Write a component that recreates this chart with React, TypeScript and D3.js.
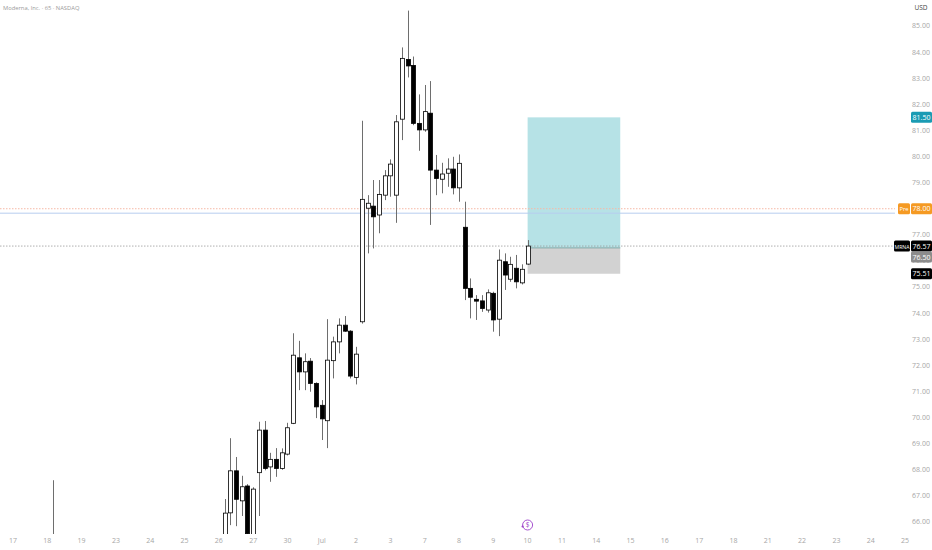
import * as d3 from 'd3';

const title = 'Moderna, Inc. · 65 · NASDAQ';
const currency = 'USD';

// bar index (6 bars of 65 min per session), OHLC
const barIndex = [7, 37, 38, 39, 40, 41, 42, 43, 44, 45, 46, 47, 48, 49, 50, 51, 52, 53, 54, 55, 56, 57, 58, 59, 60,
  61, 62, 63, 64, 65, 66, 67, 68, 69, 70, 71, 72, 73, 74, 75, 76, 77, 78, 79, 80, 81, 82, 83, 84, 85, 86, 87, 88, 89, 90];
const opens = [65.2, 65.3, 66.35, 67.96, 66.81, 67.38, 65.5, 67.89, 69.52, 68.11, 68.4, 68.05, 68.6, 69.78, 72.29, 71.75,
  72.16, 71.31, 70.47, 69.88, 72.18, 72.9, 73.54, 73.31, 71.54, 73.67, 78.02, 78.1, 77.76, 78.52, 79.26, 78.52, 81.43,
  83.72, 83.49, 81.27, 81.02, 81.66, 79.48, 79.13, 79.36, 79.52, 78.8, 77.29, 74.95, 74.53, 74.47, 74.12, 74.76, 73.77,
  75.97, 75.3, 75.72, 75.16, 75.88];
const highs = [67.6, 66.88, 69.21, 68.49, 67.77, 67.45, 67.33, 69.84, 69.87, 68.65, 68.83, 68.82, 69.8, 73.23, 72.94, 72.46,
  72.28, 71.35, 70.67, 73.77, 73.1, 73.8, 73.89, 73.35, 72.71, 81.37, 78.52, 79.1, 79.1, 79.48, 79.89, 81.59, 84.18,
  85.59, 83.83, 82.38, 82.74, 82.89, 80.06, 79.76, 79.93, 79.99, 80.08, 78.27, 75.33, 74.69, 74.69, 74.91, 74.82, 76.44,
  76.29, 76.16, 76.23, 75.87, 76.8];
const lows = [64.8, 65.1, 65.88, 65.84, 66.23, 65.3, 65.3, 66.23, 67.98, 67.54, 67.73, 68.0, 68.55, 69.75, 71.05, 71.05,
  70.99, 69.98, 69.14, 68.83, 71.5, 72.46, 73.28, 71.5, 71.27, 73.6, 76.29, 76.48, 77.06, 78.33, 78.46, 77.46, 80.63,
  83.03, 81.2, 80.22, 80.95, 77.38, 78.52, 78.59, 78.84, 78.55, 78.27, 74.5, 73.8, 73.74, 74.05, 74.02, 73.29, 73.12,
  74.89, 75.2, 74.95, 75.1, 75.85];
const closes = [65.0, 66.34, 67.96, 66.87, 67.35, 65.55, 67.26, 69.52, 68.05, 68.4, 68.05, 68.65, 69.61, 72.39, 71.75,
  72.14, 71.31, 70.41, 69.95, 72.2, 72.9, 73.54, 73.31, 71.59, 72.43, 78.36, 78.21, 77.69, 78.55, 79.26, 79.71, 81.33,
  83.76, 83.47, 81.27, 81.02, 81.72, 79.48, 79.16, 79.33, 79.52, 78.8, 79.74, 74.95, 74.61, 74.46, 74.18, 74.78, 73.74,
  76.03, 75.46, 75.87, 75.2, 75.68, 76.57];

const dayLabels = ['17', '18', '19', '23', '24', '25', '26', '27', '30', 'Jul', '2', '3', '7', '8', '9', '10', '11',
  '14', '15', '16', '17', '18', '21', '22', '23', '24', '25'];
const priceTicks = d3.range(66, 86, 1);

// long position tool
const positionStart = 90;
const positionEnd = 106.2;
const targetPrice = 81.5;
const entryPrice = 76.5;
const stopPrice = 75.51;
const lastPrice = 76.57;
const prePrice = 78.0;
const blueLine = 77.83;
const eventBar = 90;

const W = 932;
const H = 550;
const plotRight = 895;
const plotBottom = 534;
const font = "'Liberation Sans Narrow', 'Open Sans', sans-serif";

function Tag({ x, y, w, text, fill, size = 7 }: { x: number; y: number; w: number; text: string; fill: string; size?: number }) {
  return (
    <g>
      <rect x={x} y={y - 5.5} width={w} height={11} rx={1.5} fill={fill} />
      <text x={x + w / 2} y={y + 2.5} textAnchor="middle" fontSize={size} fill="#fff" fontFamily={font}>{text}</text>
    </g>
  );
}

export default function App() {
  const x = d3.scaleLinear().domain([0, 156]).range([13, 905]);
  const y = d3.scaleLinear().domain([85, 66]).range([26, 522]);
  const bodyW = 4;

  const candles = barIndex.map((b, i) => ({ b, o: opens[i], h: highs[i], l: lows[i], c: closes[i] }));

  return (
    <svg width={W} height={H} style={{ position: 'absolute', left: 0, top: 0, background: '#fff' }}>
      <defs>
        <clipPath id="plot">
          <rect x={0} y={0} width={plotRight} height={plotBottom} />
        </clipPath>
      </defs>
      <rect x={0} y={0} width={W} height={H} fill="#fff" />

      <g clipPath="url(#plot)">
        {/* position box */}
        <rect x={x(positionStart)} y={y(targetPrice)} width={x(positionEnd) - x(positionStart)}
          height={y(entryPrice) - y(targetPrice)} fill="#b6e2e6" />
        <rect x={x(positionStart)} y={y(entryPrice)} width={x(positionEnd) - x(positionStart)}
          height={y(stopPrice) - y(entryPrice)} fill="#d2d2d2" />
        <line x1={x(positionStart)} x2={x(positionEnd)} y1={y(entryPrice)} y2={y(entryPrice)} stroke="#7fa9a9" strokeWidth={1} />

        {/* horizontal lines */}
        <line x1={0} x2={plotRight} y1={y(prePrice)} y2={y(prePrice)} stroke="#f6b9a6" strokeWidth={1} strokeDasharray="1.5,1.5" />
        <line x1={0} x2={plotRight} y1={y(blueLine)} y2={y(blueLine)} stroke="#b7cdef" strokeWidth={1} />
        <line x1={0} x2={plotRight} y1={y(lastPrice)} y2={y(lastPrice)} stroke="#9a9a9a" strokeWidth={0.8} strokeDasharray="1.5,1.5" />

        {candles.map(d => {
          const cx = Math.round(x(d.b)) + 0.5;
          const up = d.c >= d.o;
          const top = y(Math.max(d.o, d.c));
          const bot = y(Math.min(d.o, d.c));
          return (
            <g key={d.b}>
              <line x1={cx} x2={cx} y1={y(d.h)} y2={y(d.l)} stroke="#6e6e6e" strokeWidth={1} />
              <rect x={cx - bodyW / 2} y={top} width={bodyW} height={Math.max(1, bot - top)}
                fill={up ? '#fff' : '#000'} stroke="#000" strokeWidth={0.8} />
            </g>
          );
        })}
      </g>

      {/* title */}
      <text x={3} y={10} fontSize={5.8} fill="#9a9a9a" fontFamily={font}>{title}</text>
      <text x={921} y={10} fontSize={6.5} fill="#444" textAnchor="middle" fontFamily={font}>{currency}</text>

      {/* price axis */}
      {priceTicks.map(v => (
        <text key={v} x={921} y={y(v) + 2.4} fontSize={7} fill="#a6a6a6" textAnchor="middle" fontFamily={font}>
          {v.toFixed(2)}
        </text>
      ))}

      {/* time axis */}
      {dayLabels.map((t, i) => (
        <text key={i} x={x(i * 6)} y={543} fontSize={7} fill="#a6a6a6" textAnchor="middle" fontFamily={font}>{t}</text>
      ))}

      {/* event marker */}
      <g transform={`translate(${x(eventBar)},${525})`}>
        <circle r={5} fill="#fff" stroke="#9c3fc9" strokeWidth={0.9} />
        <text y={2.4} fontSize={6.5} fill="#9c3fc9" textAnchor="middle" fontFamily={font}>$</text>
        <circle cx={-5} cy={1.5} r={1.1} fill="#9c3fc9" />
      </g>

      {/* price tags */}
      <Tag x={911} y={y(targetPrice)} w={21} text={targetPrice.toFixed(2)} fill="#1a9bb3" />
      <Tag x={898} y={y(prePrice)} w={12} text="Pre" fill="#f59a23" size={5.8} />
      <Tag x={911} y={y(prePrice)} w={21} text={prePrice.toFixed(2)} fill="#f59a23" />
      <Tag x={894} y={y(lastPrice)} w={16} text="MRNA" fill="#000" size={5.2} />
      <Tag x={911} y={y(lastPrice)} w={21} text={lastPrice.toFixed(2)} fill="#000" />
      <Tag x={911} y={y(lastPrice) + 11} w={21} text={entryPrice.toFixed(2)} fill="#8c8c8c" />
      <Tag x={911} y={y(stopPrice)} w={21} text={stopPrice.toFixed(2)} fill="#000" />
    </svg>
  );
}
